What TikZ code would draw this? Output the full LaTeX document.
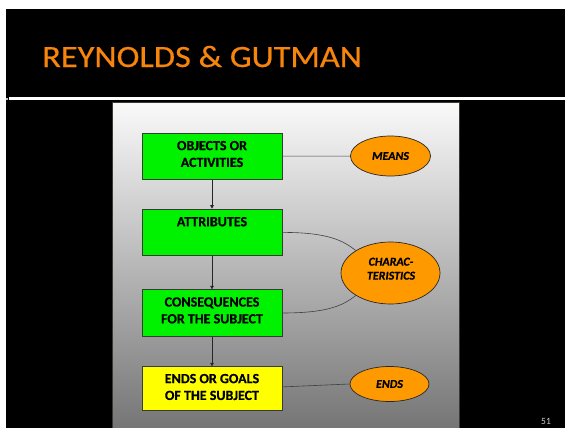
\documentclass[tikz,border=0pt]{standalone}
\usepackage{fontspec}
\setmainfont{Carlito}
\newfontfamily\headfont[FakeStretch=1.11, FakeBold=0.5]{Carlito}
\newfontfamily\labelfont[BoldFeatures={FakeBold=0.6}, BoldItalicFeatures={FakeBold=0.5}]{Carlito}
\usetikzlibrary{shapes.geometric,arrows.meta}
\definecolor{titleorange}{RGB}{247,132,12}
\definecolor{boxgreen}{RGB}{0,242,0}
\definecolor{boxyellow}{RGB}{255,255,0}
\definecolor{ovalorange}{RGB}{255,153,0}
\definecolor{edgegray}{RGB}{55,60,50}
\begin{document}
\begin{tikzpicture}[x=1pt,y=-1pt,
  stepbox/.style={draw=edgegray, line width=0.7pt, minimum width=140pt, inner sep=0pt},
  boxtext/.style={font=\labelfont\bfseries\fontsize{14}{16.8}\selectfont, align=center, inner sep=0pt, text=black},
  ovaltext/.style={font=\labelfont\bfseries\itshape\fontsize{12}{14}\selectfont, align=center, inner sep=0pt},
  oval/.style={ellipse, draw=black!85, line width=0.7pt, fill=ovalorange, inner sep=0pt, ovaltext},
  flow/.style={draw=black!85, line width=0.6pt, -{Triangle[length=3.5pt,width=3.5pt]}},
  link/.style={draw=black!75, line width=0.6pt}]
\useasboundingbox (0,0) rectangle (565,428);
% slide frame
\fill[white] (0,0) rectangle (565,428);
\fill[black] (6,9) rectangle (565,428);
\fill[white] (9,97) rectangle (565,100);
\fill[white!75!black] (6,97.5) rectangle (7.5,99.5);
\node[anchor=base west, inner sep=0pt, text=titleorange, font=\headfont\fontsize{31}{31}\selectfont] (title) at (42,67) {REYNOLDS \& GUTMAN};
% diagram panel
\shade[top color=white!98!black, middle color=white!77!black, bottom color=white!46!black]
  (112,102) rectangle (459,428);
\draw[edgegray, line width=0.8pt] (112,428) -- (112,102) -- (459,102) -- (459,428);
% boxes
\node[stepbox, fill=boxgreen, minimum height=46pt] (obj) at (212,156.3) {};
\node[stepbox, fill=boxgreen, minimum height=46.7pt] (attr) at (212,232.4) {};
\node[stepbox, fill=boxgreen, minimum height=46.6pt] (cons) at (212,313) {};
\node[stepbox, fill=boxyellow, minimum height=43.3pt] (ends) at (212,388.4) {};
\node[boxtext] (objt) at (212,154) {OBJECTS OR\\ACTIVITIES};
\node[boxtext] (attrt) at (212,221.7) {ATTRIBUTES};
\node[boxtext] (const) at (212,310.4) {CONSEQUENCES\\FOR THE SUBJECT};
\node[boxtext] (endst) at (212,387) {ENDS OR GOALS\\OF THE SUBJECT};
% ovals
\node[oval, minimum width=80pt, minimum height=40pt] (means) at (390.5,156) {MEANS};
\node[oval, minimum width=99pt, minimum height=62pt] (charac) at (390.5,273) {};
\node[ovaltext] (charact) at (391,268.7) {CHARAC-\\TERISTICS};
\node[oval, minimum width=79pt, minimum height=35pt] (endsov) at (389.5,384) {ENDS};
% connectors
\draw[flow] (obj) -- (attr);
\draw[flow] (attr) -- (cons);
\draw[flow] (cons) -- (ends);
\draw[link] (obj) -- (means);
\draw[link] (attr.east) .. controls +(48,0) and +(-12,-9) .. (charac.147);
\draw[link] (cons.east) .. controls +(48,0) and +(-12,9) .. (charac.213);
\draw[link] (ends.east) ++(0,-1.5) coordinate (endsr) (endsr) -- (endsov.west);
% page number
\node[text=white!80!black, font=\fontsize{9.5}{11}\selectfont, inner sep=0pt] (pnum) at (546,421) {51};
\end{tikzpicture}
\end{document}
